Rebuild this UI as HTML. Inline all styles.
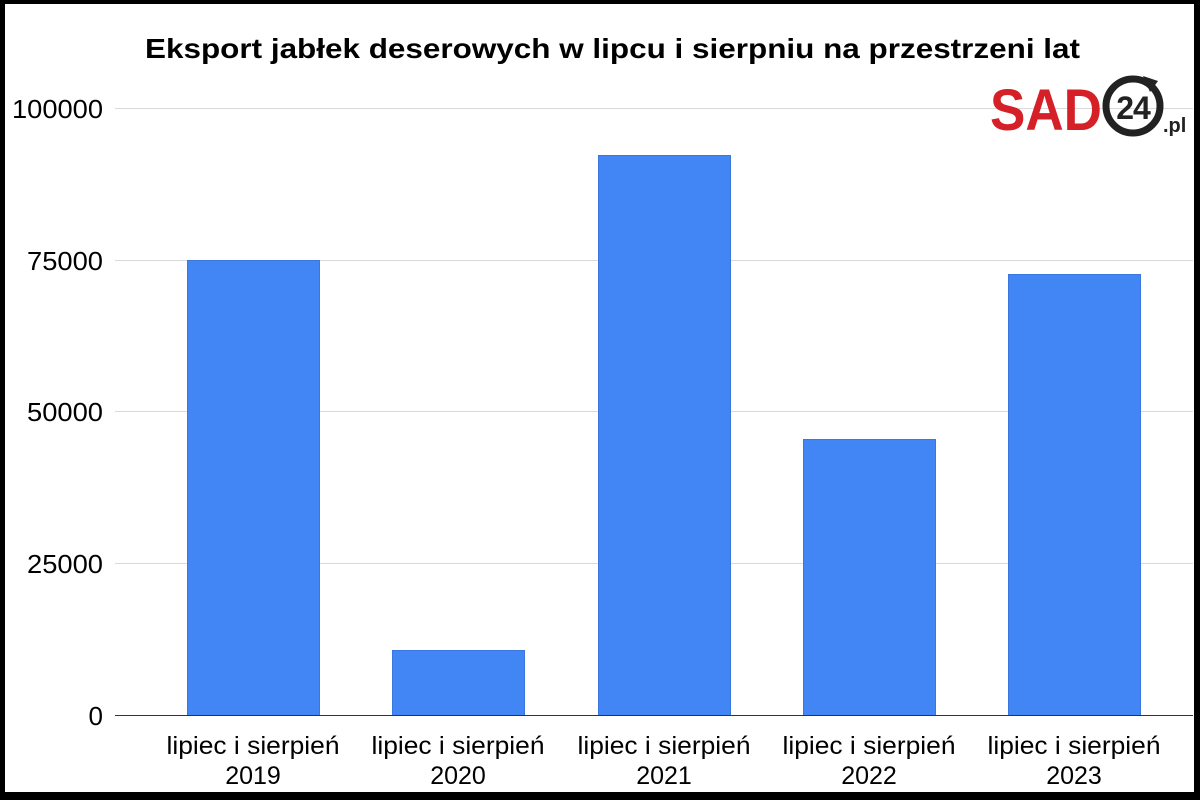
<!DOCTYPE html>
<html><head><meta charset="utf-8"><style>
body{margin:0;width:1200px;height:800px;overflow:hidden;background:#000;}
svg{display:block}
</style></head><body>
<svg width="1200" height="800" xmlns="http://www.w3.org/2000/svg" font-family="Liberation Sans, Arial, sans-serif">
<rect x="0" y="0" width="1200" height="800" fill="#000"/>
<rect x="5" y="4" width="1189" height="788" fill="#fff"/>
<text x="145" y="58" font-size="28" font-weight="bold" fill="#000" textLength="935" lengthAdjust="spacingAndGlyphs">Eksport jabłek deserowych w lipcu i sierpniu na przestrzeni lat</text>
<g stroke="#d9d9d9" stroke-width="1">
<line x1="115" y1="108.5" x2="1193" y2="108.5"/>
<line x1="115" y1="260.5" x2="1193" y2="260.5"/>
<line x1="115" y1="411.5" x2="1193" y2="411.5"/>
<line x1="115" y1="563.5" x2="1193" y2="563.5"/>
</g>
<g font-size="26" fill="#000" text-anchor="end">
<text x="103" y="118" textLength="91" lengthAdjust="spacingAndGlyphs">100000</text>
<text x="103" y="270" textLength="76" lengthAdjust="spacingAndGlyphs">75000</text>
<text x="103" y="421" textLength="76" lengthAdjust="spacingAndGlyphs">50000</text>
<text x="103" y="573" textLength="76" lengthAdjust="spacingAndGlyphs">25000</text>
<text x="103" y="725">0</text>
</g>
<g fill="#4285f4" stroke="#3a78e0" stroke-width="1">
<rect x="187.5" y="260.5" width="132" height="455"/>
<rect x="392.5" y="650.5" width="132" height="65"/>
<rect x="598.5" y="155.5" width="132" height="560"/>
<rect x="803.5" y="439.5" width="132" height="276"/>
<rect x="1008.5" y="274.5" width="132" height="441"/>
</g>
<line x1="115" y1="715.5" x2="1193" y2="715.5" stroke="#333" stroke-width="1"/>
<g font-size="25" fill="#000" text-anchor="middle">
<text x="253" y="754" textLength="173" lengthAdjust="spacingAndGlyphs">lipiec i sierpień</text><text x="253" y="784">2019</text>
<text x="458" y="754" textLength="173" lengthAdjust="spacingAndGlyphs">lipiec i sierpień</text><text x="458" y="784">2020</text>
<text x="664" y="754" textLength="173" lengthAdjust="spacingAndGlyphs">lipiec i sierpień</text><text x="664" y="784">2021</text>
<text x="869" y="754" textLength="173" lengthAdjust="spacingAndGlyphs">lipiec i sierpień</text><text x="869" y="784">2022</text>
<text x="1074" y="754" textLength="173" lengthAdjust="spacingAndGlyphs">lipiec i sierpień</text><text x="1074" y="784">2023</text>
</g>
<text x="990" y="130" font-size="58" font-weight="bold" fill="#d62027" textLength="112" lengthAdjust="spacingAndGlyphs">SAD</text>
<circle cx="1133" cy="106" r="27" fill="none" stroke="#222" stroke-width="7"/>
<path d="M1143 76 l15 5 l-8 11 z" fill="#222"/>
<text x="1133" y="119" font-size="32" font-weight="bold" fill="#222" text-anchor="middle" letter-spacing="-1">24</text>
<text x="1163" y="132" font-size="20" font-weight="bold" fill="#222">.pl</text>
</svg>
</body></html>
